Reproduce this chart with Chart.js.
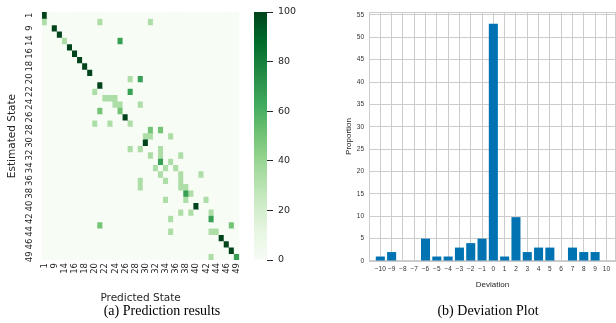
<!DOCTYPE html>
<html>
<head>
<meta charset="utf-8">
<script src="https://cdn.jsdelivr.net/npm/chart.js@4.4.1/dist/chart.umd.min.js"></script>
<style>
  body { margin: 0; background: #fff; width: 616px; height: 323px; position: relative; overflow: hidden; }
  canvas { position: absolute; top: 0; }
  #heat { left: 0; }
  #cbar { left: 250px; }
  #dev { left: 335px; }
  .cap { position: absolute; top: 303px; font-family: "Liberation Serif", serif; font-size: 14px; color: #000; transform: translateX(-50%); white-space: nowrap; }
</style>
</head>
<body>
<canvas id="heat" width="250" height="305"></canvas>
<canvas id="cbar" width="66" height="305"></canvas>
<canvas id="dev" width="281" height="290"></canvas>
<div class="cap" style="left:162px">(a) Prediction results</div>
<div class="cap" style="left:488px">(b) Deviation Plot</div>
<script>
// (a) heatmap: state labels and the non-zero cells (row = estimated, col = predicted)
const states = ['1','5','9','12','14','15','16','17','18','19','20','21','22','23','24','25','26','27','28','29',
                '30','31','32','33','34','35','36','37','38','39','40','41','42','43','44','45','46','47','49'];
const cellRow = [0, 1,1,1, 2, 3, 4,4, 5, 6, 7, 8, 9, 10,10, 11, 12,12, 13,13,13, 14,14,14, 15,15, 16,
                 17,17,17, 18,18, 19,19,19, 20, 21,21,21, 22,22,22, 23,23, 24,24,24, 25,25,25, 26,26,26,
                 27,27,27, 28,28, 29,29,29, 30, 31,31,31, 32,32, 33,33, 34,34,34, 35, 36, 37, 38,38];
const cellCol = [0, 0,11,21, 2, 3, 4,15, 5, 6, 7, 8, 9, 17,19, 11, 10,17, 12,13,14, 14,15,19, 11,15, 16,
                 10,13,17, 21,23, 20,21,25, 20, 17,19,23, 21,23,27, 23,25, 22,24,26, 23,27,31, 19,24,27,
                 19,27,28, 28,29, 24,28,32, 30, 27,29,33, 25,33, 11,37, 25,33,34, 35, 36, 37, 33,38];
const cellVal = [100, 33.3,33.3,33.3, 100, 100, 33.3,66.7, 100, 100, 100, 100, 100, 33.3,66.7, 100, 33.3,66.7,
                 33.3,33.3,33.3, 33.3,33.3,33.3, 50,50, 100, 33.3,33.3,33.3, 50,50, 33.3,33.3,33.3, 100,
                 33.3,33.3,33.3, 33.3,33.3,33.3, 66.7,33.3, 33.3,33.3,33.3, 33.3,33.3,33.3, 33.3,33.3,33.3,
                 33.3,33.3,33.3, 66.7,33.3, 33.3,33.3,33.3, 100, 33.3,33.3,33.3, 33.3,66.7, 50,50,
                 33.3,33.3,33.3, 100, 100, 100, 33.3,66.7];
const colorbarTicks = [0, 20, 40, 60, 80, 100];

// (b) deviation plot
const deviations = [-10,-9,-8,-7,-6,-5,-4,-3,-2,-1,0,1,2,3,4,5,6,7,8,9,10];
const proportions = [1,2,0,0,5,1,1,3,4,5,53,1,9.8,2,3,3,0,3,2,2,0];
const proportionTicks = [0,5,10,15,20,25,30,35,40,45,50,55];

const GREENS = ['#f7fcf5','#e5f5e0','#c7e9c0','#a1d99b','#74c476','#41ab5d','#238b45','#006d2c','#00441b'];
const SANS = '"DejaVu Sans", sans-serif';
const ARIAL = '"Liberation Sans", Arial, sans-serif';
const TXT = '#262626';

function hexRgb(h) {
    return [1, 3, 5].map(i => parseInt(h.slice(i, i + 2), 16));
}

function greens(v) {
    const t = Math.max(0, Math.min(1, v / 100)) * (GREENS.length - 1);
    const i = Math.min(Math.floor(t), GREENS.length - 2);
    const f = t - i;
    const a = hexRgb(GREENS[i]), b = hexRgb(GREENS[i + 1]);
    const c = a.map((x, k) => Math.round(x + (b[k] - x) * f));
    return `rgb(${c[0]},${c[1]},${c[2]})`;
}

const n = states.length;
const matrix = states.map(() => states.map(() => 0));
cellRow.forEach((r, i) => { matrix[r][cellCol[i]] = cellVal[i]; });

const heatBg = {
    id: 'heatBg',
    beforeDatasetsDraw(chart) {
        const { ctx, chartArea: a } = chart;
        ctx.save();
        ctx.fillStyle = greens(0);
        ctx.fillRect(a.left, a.top, a.width, a.height);
        ctx.restore();
    }
};

new Chart(document.getElementById('heat'), {
    type: 'bar',
    data: {
        labels: states,
        datasets: matrix.map((row, r) => ({
            data: row.map(() => [r, r + 1]),
            backgroundColor: row.map(greens),
            borderWidth: 0,
            grouped: false,
            barPercentage: 1,
            categoryPercentage: 1
        }))
    },
    options: {
        animation: false,
        responsive: false,
        layout: { padding: { top: 12, right: 8 } },
        plugins: { legend: { display: false }, tooltip: { enabled: false } },
        scales: {
            x: {
                grid: { display: false, drawTicks: false },
                border: { display: false },
                ticks: {
                    autoSkip: false, minRotation: 90, maxRotation: 90, padding: 3,
                    font: { family: SANS, size: 8.5 }, color: TXT,
                    callback: (v, i) => (i % 2 ? '' : states[i])
                },
                title: { display: true, text: 'Predicted State', font: { family: SANS, size: 10.5 }, color: TXT, padding: { top: 2, bottom: 0 } },
                afterFit: s => { s.height = 45; }
            },
            y: {
                type: 'linear', reverse: true, min: 0, max: n,
                grid: { display: false, drawTicks: false },
                border: { display: false },
                afterBuildTicks: s => {
                    s.ticks = states.map((_, i) => ({ value: i + 0.5 })).filter((_, i) => i % 2 === 0);
                },
                ticks: {
                    autoSkip: false, minRotation: 90, maxRotation: 90, crossAlign: 'center', padding: 7,
                    font: { family: SANS, size: 8.5 }, color: TXT,
                    callback: v => states[Math.floor(v)]
                },
                title: { display: true, text: 'Estimated State', font: { family: SANS, size: 10.5 }, color: TXT, padding: { top: 6, bottom: 0 } },
                afterFit: s => { s.width = 42; }
            }
        }
    },
    plugins: [heatBg]
});

new Chart(document.getElementById('cbar'), {
    type: 'bar',
    data: {
        labels: [''],
        datasets: [{
            data: [[colorbarTicks[0], colorbarTicks[colorbarTicks.length - 1]]],
            backgroundColor: ctx => {
                const a = ctx.chart.chartArea;
                if (!a) return greens(50);
                const g = ctx.chart.ctx.createLinearGradient(0, a.bottom, 0, a.top);
                GREENS.forEach((c, i) => g.addColorStop(i / (GREENS.length - 1), c));
                return g;
            },
            borderWidth: 0,
            barPercentage: 1,
            categoryPercentage: 1
        }]
    },
    options: {
        animation: false,
        responsive: false,
        layout: { padding: { left: 4, top: 12, bottom: 45 } },
        plugins: { legend: { display: false }, tooltip: { enabled: false } },
        scales: {
            x: { display: false },
            y: {
                position: 'right', min: 0, max: 100,
                afterBuildTicks: s => { s.ticks = colorbarTicks.map(v => ({ value: v })); },
                grid: { drawOnChartArea: false, drawTicks: true, tickLength: 6, tickColor: TXT, tickWidth: 1 },
                border: { display: false },
                ticks: { autoSkip: false, padding: 5, font: { family: SANS, size: 9.5 }, color: TXT },
                afterFit: s => { s.width = 49; }
            }
        }
    }
});

const frame = {
    id: 'frame',
    beforeDatasetsDraw(chart) {
        const { ctx, chartArea: a } = chart;
        ctx.save();
        ctx.strokeStyle = '#cccccc';
        ctx.lineWidth = 1;
        ctx.strokeRect(a.left + 0.5, a.top + 0.5, a.width - 1, a.height - 1);
        ctx.restore();
    }
};

const minus = v => (v < 0 ? '\u2212' + Math.abs(v) : String(v));

new Chart(document.getElementById('dev'), {
    type: 'bar',
    data: {
        datasets: [{
            data: deviations.map((d, i) => ({ x: d, y: proportions[i] })),
            backgroundColor: '#0173b2',
            borderWidth: 0,
            barPercentage: 0.8,
            categoryPercentage: 1
        }]
    },
    options: {
        animation: false,
        responsive: false,
        layout: { padding: { top: 12, right: 0 } },
        plugins: { legend: { display: false }, tooltip: { enabled: false } },
        scales: {
            x: {
                type: 'linear', min: -11, max: 10.85, offset: false,
                afterBuildTicks: s => { s.ticks = deviations.map(v => ({ value: v })); },
                grid: { color: '#cccccc', drawTicks: false, offset: false },
                border: { display: false },
                ticks: { autoSkip: false, minRotation: 0, maxRotation: 0, padding: 4, font: { family: ARIAL, size: 6.5 }, color: '#333', callback: minus },
                title: { display: true, text: 'Deviation', font: { family: ARIAL, size: 8 }, color: TXT, padding: { top: 3, bottom: 0 } },
                afterFit: s => { s.height = 29; }
            },
            y: {
                min: 0, max: 55.65,
                afterBuildTicks: s => { s.ticks = proportionTicks.map(v => ({ value: v })); },
                grid: { color: '#cccccc', drawTicks: false },
                border: { display: false },
                ticks: { autoSkip: false, padding: 5, font: { family: ARIAL, size: 6.5 }, color: '#333' },
                title: { display: true, text: 'Proportion', font: { family: ARIAL, size: 8 }, color: TXT, padding: { top: 9, bottom: 0 } },
                afterFit: s => { s.width = 34; }
            }
        }
    },
    plugins: [frame]
});
</script>
</body>
</html>
